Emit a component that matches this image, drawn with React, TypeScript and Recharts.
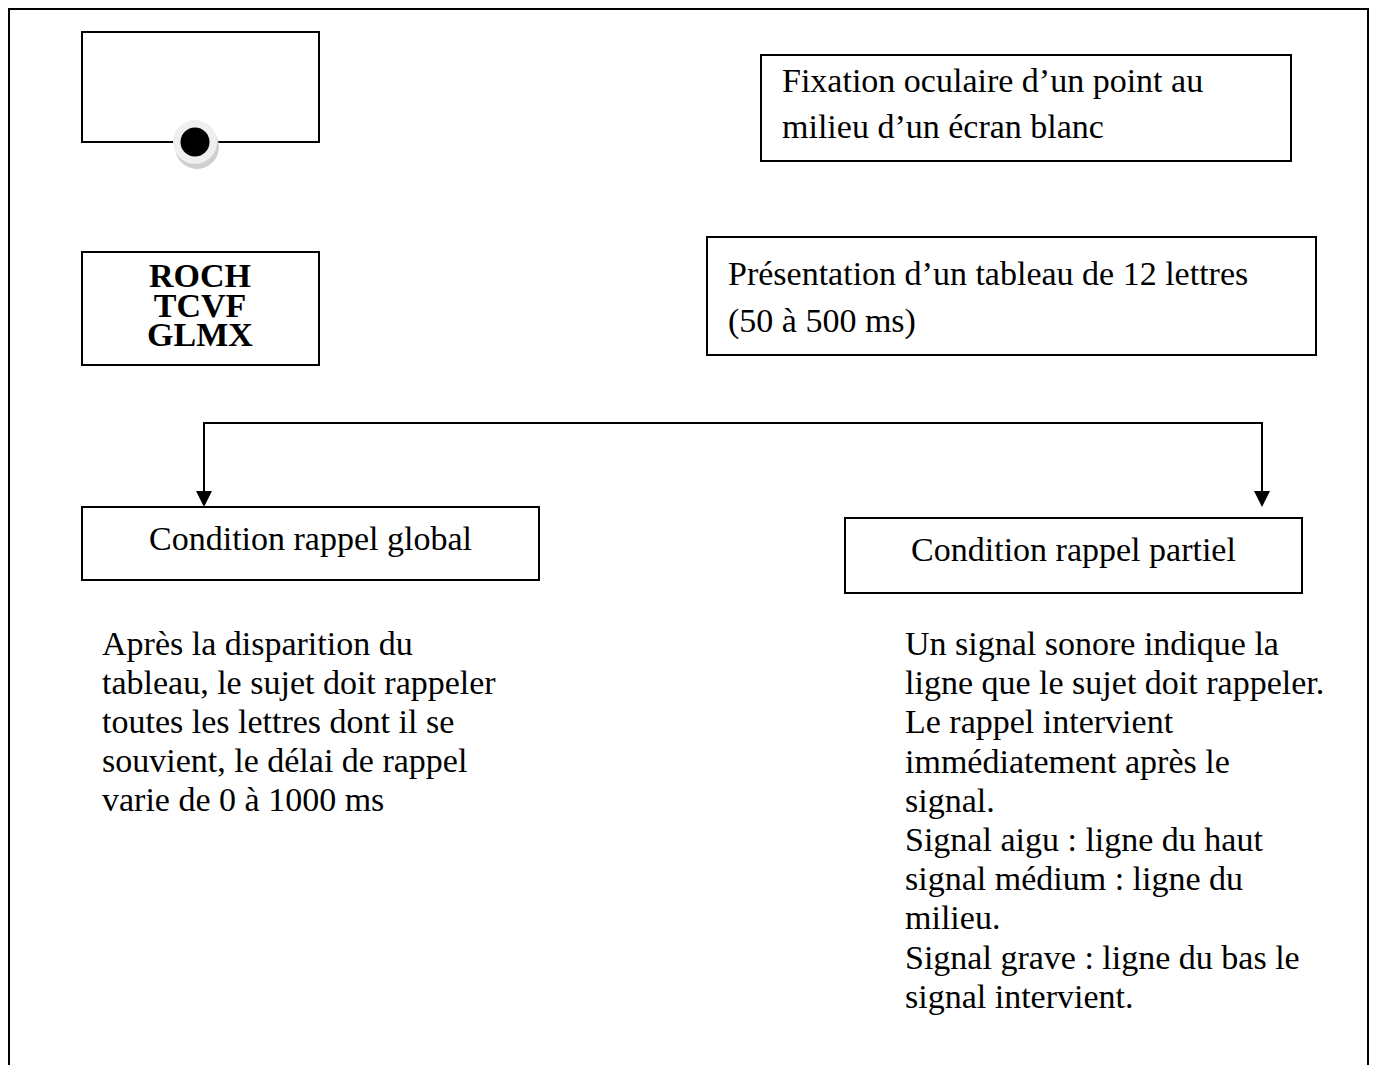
import React from 'react';
import { ComposedChart, XAxis, YAxis, Scatter, ReferenceArea, ReferenceLine } from 'recharts';

// ---- Text content ----
const fixationLines = ['Fixation oculaire d’un point au', 'milieu d’un écran blanc'];
const presentationLines = ['Présentation d’un tableau de 12 lettres', '(50 à 500 ms)'];
const letterRows = ['ROCH', 'TCVF', 'GLMX'];
const globalTitle = ['Condition rappel global'];
const partielTitle = ['Condition rappel partiel'];
const globalText = [
  'Après la disparition du',
  'tableau, le sujet doit rappeler',
  'toutes les lettres dont il se',
  'souvient, le délai de rappel',
  'varie de 0 à 1000 ms',
];
const partielText = [
  'Un signal sonore indique la',
  'ligne que le sujet doit rappeler.',
  'Le rappel intervient',
  'immédiatement après le',
  'signal.',
  'Signal aigu : ligne du haut',
  'signal médium : ligne du',
  'milieu.',
  'Signal grave : ligne du bas le',
  'signal intervient.',
];

// ---- Layout (page coordinates) ----
const W = 1375;
const H = 1065;
const FONT = '"Liberation Serif", "Times New Roman", serif';
const FS = 34;

type Block = { lines: string[]; x: number; y0: number; step: number; anchor: 'start' | 'middle'; bold?: boolean; grouped?: boolean };
const blocks: Block[] = [
  { lines: fixationLines, x: 782, y0: 92, step: 46, anchor: 'start' },
  { lines: presentationLines, x: 728, y0: 285, step: 47, anchor: 'start' },
  { lines: letterRows, x: 200, y0: 287, step: 29.5, anchor: 'middle', bold: true, grouped: true },
  { lines: globalTitle, x: 310.5, y0: 550, step: 0, anchor: 'middle' },
  { lines: partielTitle, x: 1073.5, y0: 561, step: 0, anchor: 'middle' },
  { lines: globalText, x: 102, y0: 655, step: 39.1, anchor: 'start' },
  { lines: partielText, x: 905, y0: 655, step: 39.2, anchor: 'start' },
];
const textPoints = blocks.flatMap((b) =>
  b.grouped
    ? [{ x: b.x, y: b.y0, lines: b.lines, step: b.step, anchor: b.anchor, bold: !!b.bold }]
    : b.lines.map((t, i) => ({ x: b.x, y: b.y0 + i * b.step, lines: [t], step: 0, anchor: b.anchor, bold: !!b.bold }))
);

const boxes = [
  { x1: 82, y1: 32, x2: 319, y2: 142 },
  { x1: 761, y1: 55, x2: 1291, y2: 161 },
  { x1: 82, y1: 252, x2: 319, y2: 365 },
  { x1: 707, y1: 237, x2: 1316, y2: 355 },
  { x1: 82, y1: 507, x2: 539, y2: 580 },
  { x1: 845, y1: 518, x2: 1302, y2: 593 },
];

const segments = [
  // outer frame (no bottom edge)
  [{ x: 9, y: 8 }, { x: 9, y: 1065 }],
  [{ x: 8, y: 9 }, { x: 1369, y: 9 }],
  [{ x: 1368, y: 8 }, { x: 1368, y: 1065 }],
  // connector
  [{ x: 204, y: 423 }, { x: 1262, y: 423 }],
  [{ x: 204, y: 422 }, { x: 204, y: 493 }],
  [{ x: 1262, y: 422 }, { x: 1262, y: 493 }],
];

const arrowTips = [
  { x: 204, y: 507 },
  { x: 1262, y: 507 },
];
const fixationDot = [{ x: 195, y: 142 }];

const TextShape = (p: any) => {
  const d = p.payload;
  return (
    <text
      x={p.cx}
      y={p.cy}
      textAnchor={d.anchor}
      fontFamily={FONT}
      fontSize={FS}
      fontWeight={d.bold ? 'bold' : 'normal'}
      fill="#000"
    >
      {d.lines.map((t: string, i: number) => (
        <tspan key={i} x={p.cx} dy={i === 0 ? 0 : d.step}>
          {t}
        </tspan>
      ))}
    </text>
  );
};

const ArrowShape = (p: any) => (
  <polygon points={`${p.cx},${p.cy} ${p.cx - 8},${p.cy - 16} ${p.cx + 8},${p.cy - 16}`} fill="#000" />
);

const DotShape = (p: any) => (
  <g>
    <circle cx={p.cx + 2} cy={p.cy + 5} r={22} fill="#cfcfcf" />
    <circle cx={p.cx} cy={p.cy} r={22} fill="#efefef" />
    <circle cx={p.cx} cy={p.cy} r={14.5} fill="#000" />
  </g>
);

export default function App() {
  return (
    <div style={{ position: 'absolute', left: 0, top: 0, width: W, height: H, background: '#fff' }}>
      <ComposedChart width={W} height={H} margin={{ top: 0, right: 0, bottom: 0, left: 0 }}>
        <XAxis type="number" dataKey="x" domain={[0, W]} hide allowDataOverflow />
        <YAxis type="number" dataKey="y" domain={[0, H]} reversed hide allowDataOverflow />
        {boxes.map((b, i) => (
          <ReferenceArea
            key={'b' + i}
            x1={b.x1}
            x2={b.x2}
            y1={b.y1}
            y2={b.y2}
            fill="#fff"
            fillOpacity={1}
            stroke="#000"
            strokeWidth={2}
            ifOverflow="visible"
          />
        ))}
        {segments.map((s, i) => (
          <ReferenceLine key={'s' + i} segment={s} stroke="#000" strokeWidth={2} ifOverflow="visible" />
        ))}
        <Scatter data={arrowTips} shape={ArrowShape} isAnimationActive={false} />
        <Scatter data={fixationDot} shape={DotShape} isAnimationActive={false} />
        <Scatter data={textPoints} shape={TextShape} isAnimationActive={false} />
      </ComposedChart>
    </div>
  );
}
